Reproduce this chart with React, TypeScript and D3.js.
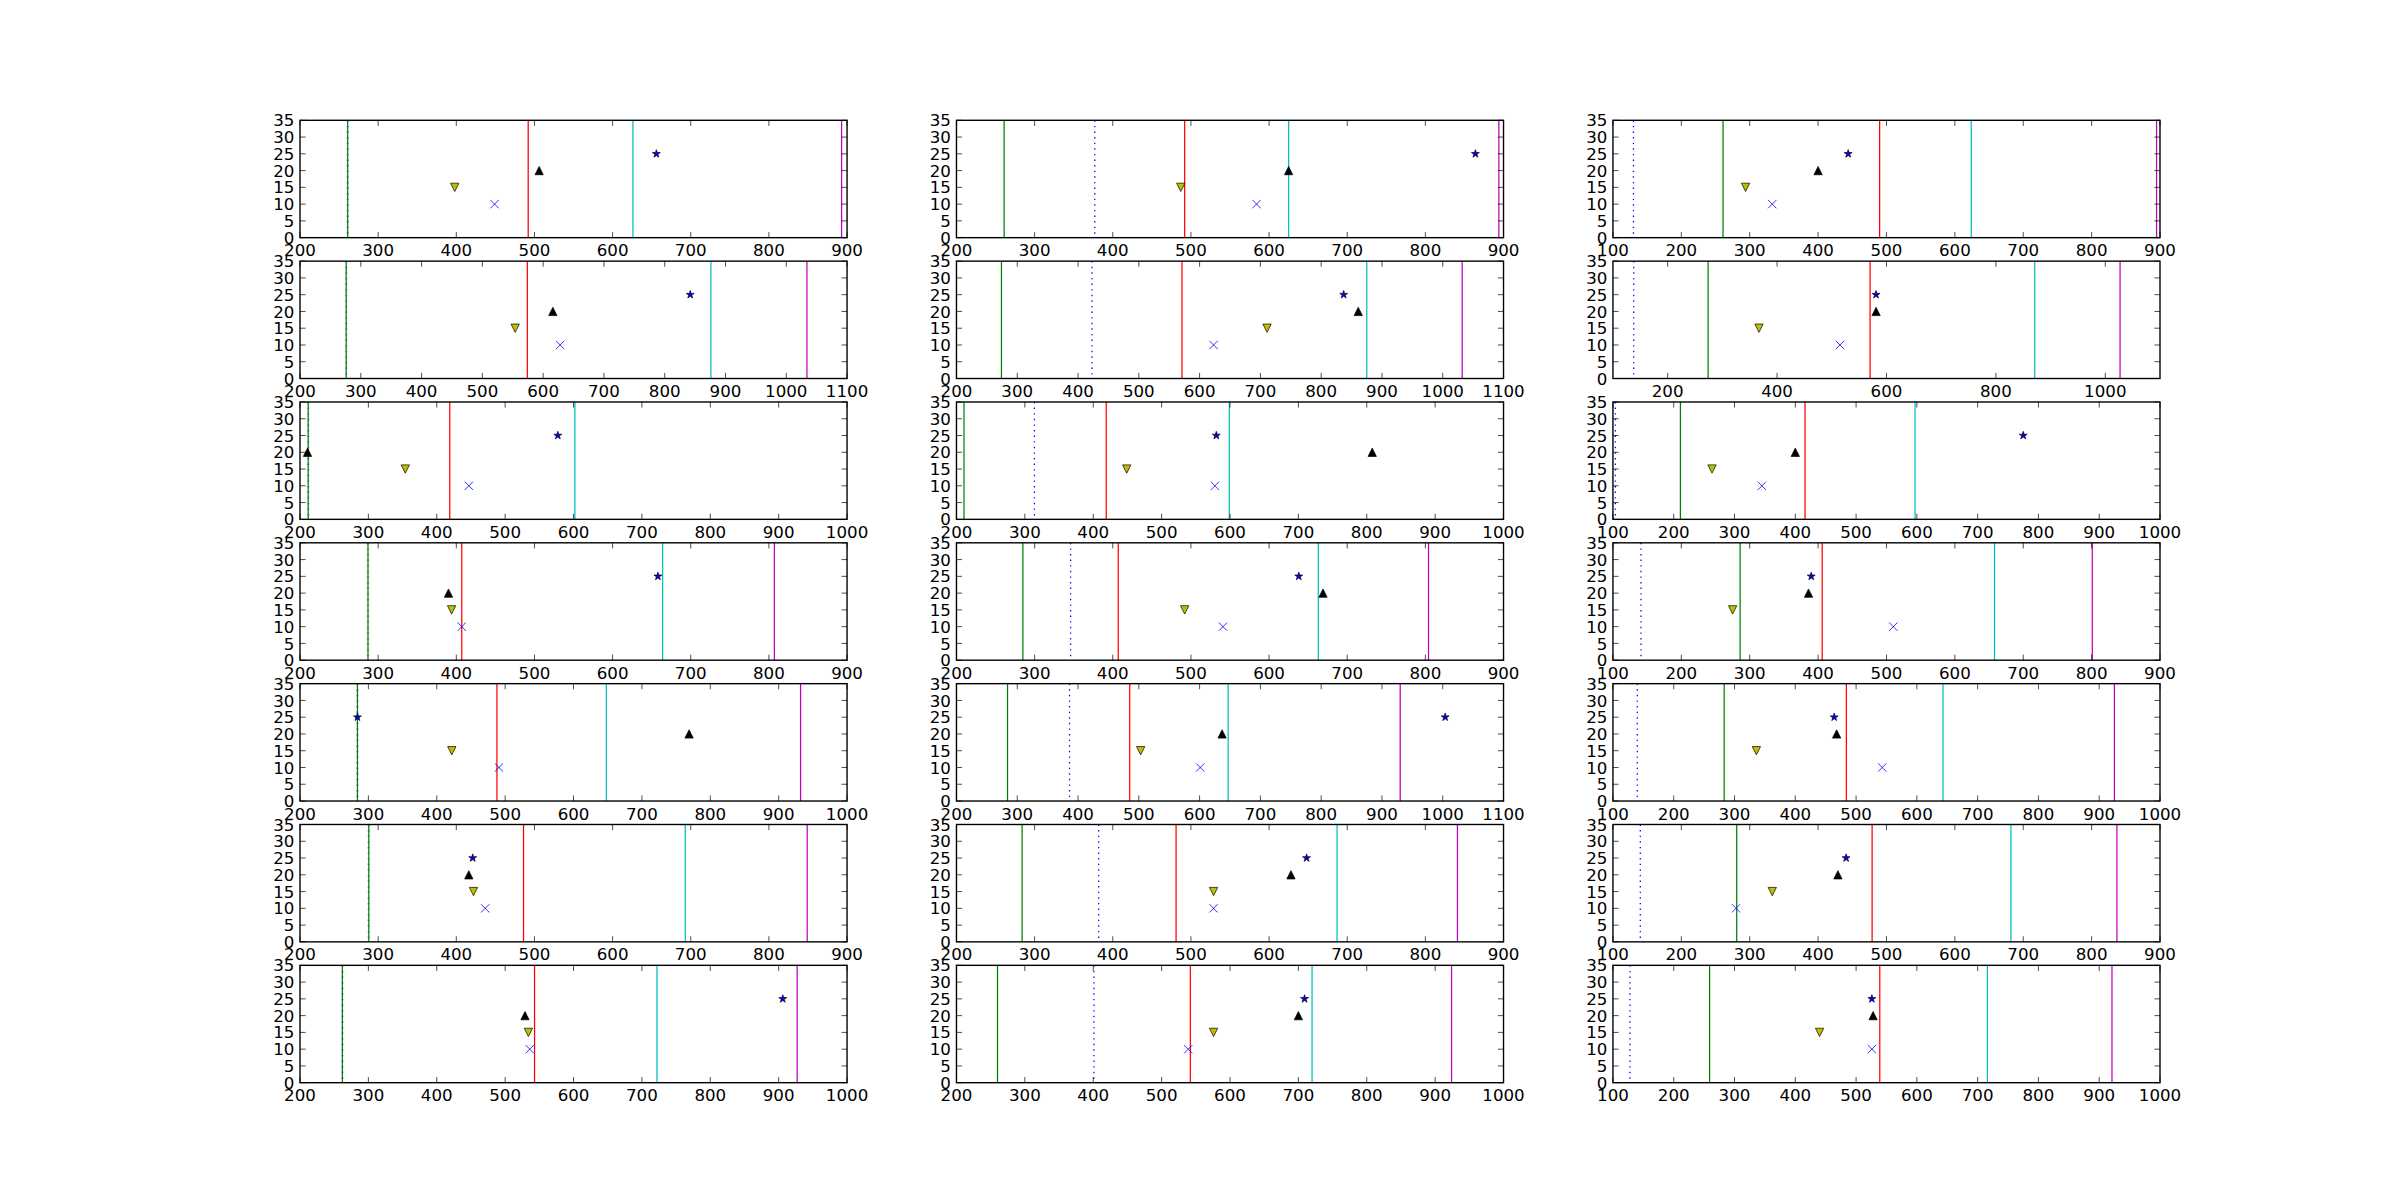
import { useEffect, useRef } from 'react';
import * as d3 from 'd3';

// panels are listed row by row, three per row
const xDomains: [number, number][] = [
  [200, 900], [200, 900], [100, 900],
  [200, 1100], [200, 1100], [100, 1100],
  [200, 1000], [200, 1000], [100, 1000],
  [200, 900], [200, 900], [100, 900],
  [200, 1000], [200, 1100], [100, 1000],
  [200, 900], [200, 900], [100, 900],
  [200, 1000], [200, 1000], [100, 1000],
];
const xTickSteps = [100, 100, 100, 100, 100, 200, 100, 100, 100, 100, 100, 100, 100, 100, 100, 100, 100, 100, 100, 100, 100];
const yTicks = [0, 5, 10, 15, 20, 25, 30, 35];

// vertical lines
const greenX = [261, 261, 261, 276, 274, 274, 212, 211, 211, 287, 285, 286, 284, 284, 283, 288, 284, 281, 262, 260, 259];
const dottedX = [261, 377, 130, 276, 423, 138, 212, 314, 104, 287, 346, 141, 284, 386, 140, 288, 382, 140, 262, 401, 128];
const redX = [492, 492, 490, 574, 571, 570, 419, 419, 416, 407, 407, 406, 488, 485, 484, 486, 481, 479, 543, 542, 539];
const cyanX = [626, 625, 624, 876, 875, 871, 602, 599, 597, 664, 663, 658, 648, 647, 643, 693, 687, 682, 722, 720, 716];
const magentaX: (number | null)[] = [893, 894, 895, 1034, 1032, 1027, null, null, null, 807, 804, 801, 932, 930, 925, 849, 841, 837, 927, 924, 921];

// markers (x positions; y is fixed per series)
const triDownX = [398, 487, 294, 554, 711, 367, 354, 449, 263, 394, 492, 275, 422, 503, 336, 422, 529, 333, 534, 576, 440];
const crossX = [449, 584, 333, 628, 623, 515, 447, 578, 345, 407, 541, 510, 491, 601, 543, 437, 529, 280, 536, 539, 526];
const triUpX = [506, 625, 400, 616, 861, 581, 211, 808, 400, 390, 669, 386, 769, 637, 468, 416, 628, 429, 529, 700, 528];
const starX = [656, 864, 444, 842, 837, 581, 577, 580, 775, 658, 638, 390, 284, 1004, 464, 421, 648, 441, 906, 709, 526];
const markerY = { triDown: 15, cross: 10, triUp: 20, star: 25 };

const WIDTH = 2400;
const HEIGHT = 1203;
const ROWS = 7;
const COLS = 3;

export default function App() {
  const svgRef = useRef<SVGSVGElement>(null);

  useEffect(() => {
    if (!svgRef.current) return;
    const svg = d3.select(svgRef.current);
    svg.selectAll('*').remove();

    svg.append('rect').attr('width', WIDTH).attr('height', HEIGHT).attr('fill', '#ffffff');

    const left = 0.125 * WIDTH;
    const right = 0.9 * WIDTH;
    const top = 0.1 * HEIGHT;
    const bottom = 0.9 * HEIGHT;
    const cw = (right - left) / (COLS + (COLS - 1) * 0.2);
    const ch = (bottom - top) / (ROWS + (ROWS - 1) * 0.2);

    const lw = 1.25;
    const ms = 8.33;
    const font = 'DejaVu Sans';

    const starPath = () => {
      const R = ms / 2, r = R * 0.381966;
      const pts: [number, number][] = [];
      for (let k = 0; k < 10; k++) {
        const a = -Math.PI / 2 + (k * Math.PI) / 5;
        const rr = k % 2 === 0 ? R : r;
        pts.push([rr * Math.cos(a), rr * Math.sin(a)]);
      }
      return 'M' + pts.map(p => p.join(',')).join('L') + 'Z';
    };
    const h = ms / 2;
    const triUp = `M0,${-h}L${-h},${h}L${h},${h}Z`;
    const triDown = `M0,${h}L${-h},${-h}L${h},${-h}Z`;

    xDomains.forEach((dom, i) => {
      const r = Math.floor(i / COLS);
      const c = i % COLS;
      const x0 = left + c * cw * 1.2;
      const y0 = top + r * ch * 1.2;

      const x = d3.scaleLinear().domain(dom).range([0, cw]);
      const y = d3.scaleLinear().domain([0, 35]).range([ch, 0]);

      const g = svg.append('g').attr('transform', `translate(${x0},${y0})`);

      const clipId = `clip-${i}`;
      g.append('clipPath').attr('id', clipId)
        .append('rect').attr('width', cw).attr('height', ch);

      const plot = g.append('g').attr('clip-path', `url(#${clipId})`);

      const vline = (v: number | null, color: string, width: number, dash?: string, opacity = 1) => {
        if (v == null) return;
        const l = plot.append('line')
          .attr('x1', x(v)).attr('x2', x(v))
          .attr('y1', 0).attr('y2', ch)
          .attr('stroke', color).attr('stroke-width', width)
          .attr('stroke-opacity', opacity);
        if (dash) l.attr('stroke-dasharray', dash);
      };

      const overlapping = Math.abs(dottedX[i] - greenX[i]) < 1;
      vline(dottedX[i], '#0000ff', overlapping ? 2.6 : lw, '1.4,4.2', overlapping ? 0.35 : 1);
      vline(greenX[i], '#008000', lw);
      vline(redX[i], '#ff0000', lw);
      vline(cyanX[i], '#00bfbf', lw);
      vline(magentaX[i], '#bf00bf', lw);

      // markers
      plot.append('path')
        .attr('d', triDown)
        .attr('transform', `translate(${x(triDownX[i])},${y(markerY.triDown)})`)
        .attr('fill', '#bfbf00').attr('stroke', '#000').attr('stroke-width', 0.7);

      const cx = x(crossX[i]), cy = y(markerY.cross);
      plot.append('path')
        .attr('d', `M${cx - h},${cy - h}L${cx + h},${cy + h}M${cx - h},${cy + h}L${cx + h},${cy - h}`)
        .attr('stroke', '#0000ff').attr('stroke-width', 0.8).attr('fill', 'none');

      plot.append('path')
        .attr('d', triUp)
        .attr('transform', `translate(${x(triUpX[i])},${y(markerY.triUp)})`)
        .attr('fill', '#000').attr('stroke', '#000').attr('stroke-width', 0.7);

      plot.append('path')
        .attr('d', starPath())
        .attr('transform', `translate(${x(starX[i])},${y(markerY.star)})`)
        .attr('fill', '#0000ff').attr('stroke', '#000').attr('stroke-width', 0.7);

      // ticks, inward on all sides
      const step = xTickSteps[i];
      const xt = d3.range(Math.ceil(dom[0] / step) * step, dom[1] + 1, step);
      const tl = 5.6;
      xt.forEach(t => {
        g.append('line').attr('x1', x(t)).attr('x2', x(t)).attr('y1', ch).attr('y2', ch - tl)
          .attr('stroke', '#000').attr('stroke-width', 0.7);
        g.append('line').attr('x1', x(t)).attr('x2', x(t)).attr('y1', 0).attr('y2', tl)
          .attr('stroke', '#000').attr('stroke-width', 0.7);
        g.append('text').attr('x', x(t)).attr('y', ch + 18.5)
          .attr('text-anchor', 'middle').attr('font-family', font).attr('font-size', 16.67)
          .attr('fill', '#000').text(String(t));
      });
      yTicks.forEach(t => {
        g.append('line').attr('x1', 0).attr('x2', tl).attr('y1', y(t)).attr('y2', y(t))
          .attr('stroke', '#000').attr('stroke-width', 0.7);
        g.append('line').attr('x1', cw).attr('x2', cw - tl).attr('y1', y(t)).attr('y2', y(t))
          .attr('stroke', '#000').attr('stroke-width', 0.7);
        g.append('text').attr('x', -5.6).attr('y', y(t) + 6.1)
          .attr('text-anchor', 'end').attr('font-family', font).attr('font-size', 16.67)
          .attr('fill', '#000').text(String(t));
      });

      // frame
      g.append('rect').attr('width', cw).attr('height', ch)
        .attr('fill', 'none').attr('stroke', '#000').attr('stroke-width', 1.39);
    });
  }, []);

  return (
    <svg
      ref={svgRef}
      width={WIDTH}
      height={HEIGHT}
      style={{ position: 'absolute', left: 0, top: 0, display: 'block' }}
    />
  );
}
